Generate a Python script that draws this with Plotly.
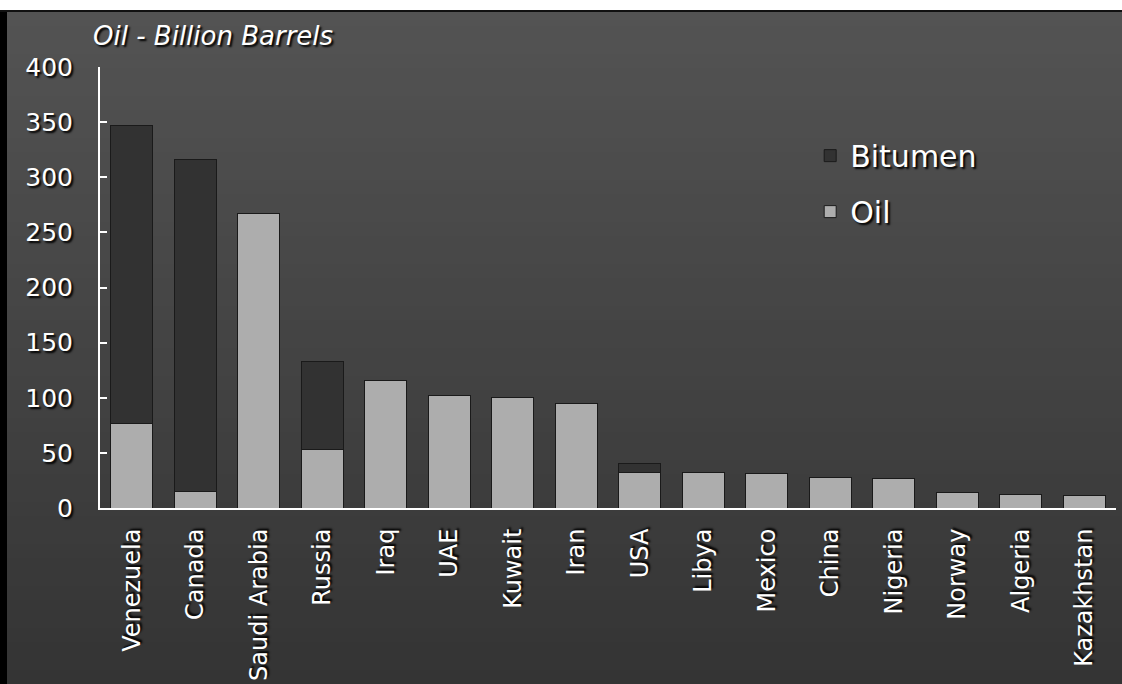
import plotly.graph_objects as go

countries = ["Venezuela", "Canada", "Saudi Arabia", "Russia", "Iraq", "UAE", "Kuwait",
             "Iran", "USA", "Libya", "Mexico", "China", "Nigeria", "Norway", "Algeria",
             "Kazakhstan"]
oil = [77, 15, 267, 53, 116, 102, 100.5, 94.5, 32.5, 32, 31.5, 28, 27, 14, 12.5, 11]
bitumen = [270, 301, 0, 80, 0, 0, 0, 0, 8, 0, 0, 0, 0, 0, 0, 0]
y_ticks = [0, 50, 100, 150, 200, 250, 300, 350, 400]

W, H = 1122, 684
L, R, T, B = 100, 6, 67, 176

shadow = "2px 2px 2px #000000"
font_family = "DejaVu Sans, Verdana, sans-serif"

fig = go.Figure()
fig.add_trace(go.Bar(
    x=countries, y=oil, name="Oil", legendgroup="oil", legendrank=2,
    marker=dict(color="#adadad", line=dict(color="#1a1a1a", width=1)),
))
fig.add_trace(go.Bar(
    x=countries, y=bitumen, name="Bitumen", legendgroup="bit", legendrank=1,
    marker=dict(color="#323232", line=dict(color="#1a1a1a", width=1)),
))

# background gradient bands (style only), given in full-figure fractions
shapes = []
n = 48
x0 = 7 / W
ytop = (H - 12) / H
band = ytop / n
for i in range(n):
    f = i / (n - 1)
    c = int(round(0x53 - (0x53 - 0x34) * f))
    ya = ytop - band * i
    yb = max(0.0, ytop - band * (i + 1) - band * 0.6)
    shapes.append(dict(type="rect", xref="paper", yref="paper", x0=x0, x1=1.0, y0=yb, y1=ya,
                       fillcolor=f"rgb({c},{c},{c})", line=dict(width=0), layer="below"))
shapes.append(dict(type="rect", xref="paper", yref="paper", x0=0, x1=x0, y0=0, y1=ytop + 2 / H,
                   fillcolor="#000000", line=dict(width=0), layer="below"))
shapes.append(dict(type="rect", xref="paper", yref="paper", x0=0, x1=1, y0=ytop, y1=ytop + 2 / H,
                   fillcolor="#111111", line=dict(width=0), layer="below"))

# map full-figure fractions to plot-domain fractions
pw = W - L - R
ph = H - T - B
for s in shapes:
    fx0, fx1 = s["x0"], s["x1"]
    fy0, fy1 = s["y0"], s["y1"]
    s["x0"] = (fx0 * W - L) / pw
    s["x1"] = (fx1 * W - L) / pw
    s["y0"] = (fy0 * H - B) / ph
    s["y1"] = (fy1 * H - B) / ph

fig.update_layout(
    width=W, height=H,
    margin=dict(l=L, r=R, t=T, b=B, autoexpand=False),
    barmode="stack",
    bargap=0.34,
    paper_bgcolor="#ffffff",
    plot_bgcolor="rgba(0,0,0,0)",
    shapes=shapes,
    font=dict(family=font_family, color="#ffffff"),
    title=dict(
        text="Oil - Billion Barrels",
        x=93 / W, xanchor="left", xref="container",
        y=1 - 36 / H, yanchor="middle", yref="container",
        font=dict(size=26, style="italic", color="#ffffff", shadow=shadow, family=font_family),
    ),
    legend=dict(
        x=0.699, y=0.858, xanchor="left", yanchor="top",
        traceorder="grouped", tracegroupgap=14,
        font=dict(size=30, color="#ffffff", shadow=shadow),
        bgcolor="rgba(0,0,0,0)",
    ),
    yaxis=dict(
        range=[0, 400], tickvals=y_ticks, ticktext=[str(v) for v in y_ticks],
        showgrid=False, zeroline=False, automargin=False,
        showline=True, linecolor="#ffffff", linewidth=2,
        ticks="inside", ticklen=7, tickcolor="#ffffff", tickwidth=2,
        ticklabelstandoff=20,
        tickfont=dict(size=25, color="#ffffff", shadow=shadow),
    ),
    xaxis=dict(
        showgrid=False, zeroline=False, automargin=False,
        showline=True, linecolor="#ffffff", linewidth=2,
        ticks="", tickangle=-90, ticklabelstandoff=9,
        tickfont=dict(size=24, color="#ffffff", shadow=shadow),
    ),
)

fig.write_html("out.html")
